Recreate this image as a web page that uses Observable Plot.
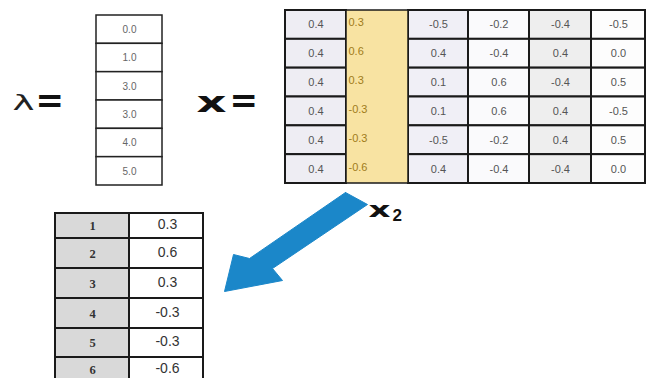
<!DOCTYPE html>
<html>
<head>
<meta charset="utf-8">
<script src="https://cdn.jsdelivr.net/npm/d3@7"></script>
<script src="https://cdn.jsdelivr.net/npm/@observablehq/plot@0.6"></script>
<style>
  html, body { margin: 0; padding: 0; background: #fff; }
  #chart svg { display: block; }
</style>
</head>
<body>
<div id="chart"></div>
<script>
// ---- data ----
const lambdaValues = [0.0, 1.0, 3.0, 3.0, 4.0, 5.0];
const xCol1 = [0.4, 0.4, 0.4, 0.4, 0.4, 0.4];
const xCol2 = [0.3, 0.6, 0.3, -0.3, -0.3, -0.6];
const xCol3 = [-0.5, 0.4, 0.1, 0.1, -0.5, 0.4];
const xCol4 = [-0.2, -0.4, 0.6, 0.6, -0.2, -0.4];
const xCol5 = [-0.4, 0.4, -0.4, 0.4, 0.4, -0.4];
const xCol6 = [-0.5, 0.0, 0.5, -0.5, 0.5, 0.0];
const x2Index = [1, 2, 3, 4, 5, 6];
const x2Values = [0.3, 0.6, 0.3, -0.3, -0.3, -0.6];
const highlightedColumn = 1; // index of x2 in X

// ---- layout ----
const W = 646, H = 378;
const fmt = v => v.toFixed(1);

// lambda vector
const lam = {x1: 96, x2: 162, y1: 15, y2: 185};
const lamH = (lam.y2 - lam.y1) / lambdaValues.length;
const lambdaCells = lambdaValues.map((v, i) => ({
  x1: lam.x1, x2: lam.x2, y1: lam.y1 + i * lamH, y2: lam.y1 + (i + 1) * lamH, v
}));

// X matrix
const xCols = [xCol1, xCol2, xCol3, xCol4, xCol5, xCol6];
const colEdges = [285, 346, 408, 468, 529, 591, 645];
const mat = {y1: 10, y2: 183};
const matH = (mat.y2 - mat.y1) / 6;
const colFills = ["#eeedf3", "#f8e3a2", "#f0eff6", "#fafafc", "#eeeeee", "#fdfdfd"];
const matCells = [];
xCols.forEach((col, c) => {
  if (c === highlightedColumn) return;
  col.forEach((v, r) => matCells.push({
    x1: colEdges[c], x2: colEdges[c + 1],
    y1: mat.y1 + r * matH, y2: mat.y1 + (r + 1) * matH,
    v, fill: colFills[c]
  }));
});
const hlCol = [{x1: colEdges[highlightedColumn], x2: colEdges[highlightedColumn + 1], y1: mat.y1, y2: mat.y2}];
const hlText = xCols[highlightedColumn].map((v, r) => ({
  x: colEdges[highlightedColumn] + 2, y: mat.y1 + r * matH + matH / 2 - 2, v
}));

// x2 table
const tab = {x0: 55, x1: 129, x2: 203};
const tabEdges = [213, 238, 268, 298, 328, 357, 387];
const tabCells = [];
x2Index.forEach((idx, r) => {
  tabCells.push({x1: tab.x0, x2: tab.x1, y1: tabEdges[r], y2: tabEdges[r + 1], fill: "#d9d9d9"});
  tabCells.push({x1: tab.x1, x2: tab.x2, y1: tabEdges[r], y2: tabEdges[r + 1], fill: "#ffffff"});
});
const rowMid = r => Math.min((tabEdges[r] + tabEdges[r + 1]) / 2 - 1, 368);
const tabIdxText = x2Index.map((v, r) => ({x: (tab.x0 + tab.x1) / 2, y: rowMid(r) + 1, v}));
const tabValText = x2Values.map((v, r) => ({x: (tab.x1 + tab.x2) / 2 + 1, y: rowMid(r), v}));

// arrow polygon (decorative)
const arrowPts = [
  [345, 192], [367, 204], [272, 268], [282, 280], [224, 291], [233, 254], [249, 258], [345, 192]
].map(([x, y]) => ({x, y}));

const sans = "Liberation Sans, Arial, sans-serif";
const dv = "DejaVu Sans, sans-serif";

const chart = Plot.plot({
  width: W, height: H,
  margin: 0,
  x: {domain: [0, W], range: [0, W], axis: null},
  y: {domain: [0, H], range: [0, H], axis: null},
  color: {type: "identity"},
  style: {background: "#fff", fontFamily: sans},
  marks: [
    // lambda label
    Plot.text([{x: 12, y: 103}], {x: "x", y: "y", text: () => "λ", fontSize: 21, textAnchor: "start", fill: "#222", fontFamily: dv}),
    Plot.text([{x: 35, y: 101}], {x: "x", y: "y", text: () => "=", fontSize: 34, fontWeight: "bold", textAnchor: "start", fill: "#111", fontFamily: dv}),
    // lambda vector
    Plot.rect(lambdaCells, {x1: "x1", x2: "x2", y1: "y1", y2: "y2", fill: "#fff", stroke: "#222", strokeWidth: 1.5}),
    Plot.text(lambdaCells, {x: d => (d.x1 + d.x2) / 2, y: d => (d.y1 + d.y2) / 2, text: d => fmt(d.v), fontSize: 10, fill: "#666"}),
    // X label
    Plot.text([{x: 196, y: 103}], {x: "x", y: "y", text: () => "x", fontSize: 28, fontWeight: "bold", textAnchor: "start", fill: "#111", fontFamily: dv}),
    Plot.text([{x: 229, y: 101}], {x: "x", y: "y", text: () => "=", fontSize: 34, fontWeight: "bold", textAnchor: "start", fill: "#111", fontFamily: dv}),
    // X matrix
    Plot.rect(matCells, {x1: "x1", x2: "x2", y1: "y1", y2: "y2", fill: "fill", stroke: "#1a1a1a", strokeWidth: 2}),
    Plot.rect(hlCol, {x1: "x1", x2: "x2", y1: "y1", y2: "y2", fill: colFills[highlightedColumn], stroke: "#1a1a1a", strokeWidth: 1.5}),
    Plot.text(matCells, {x: d => (d.x1 + d.x2) / 2, y: d => (d.y1 + d.y2) / 2, text: d => fmt(d.v), fontSize: 11, fill: "#555"}),
    Plot.text(hlText, {x: "x", y: "y", text: d => fmt(d.v), fontSize: 11, fill: "#a07c1a", textAnchor: "start"}),
    // arrow
    Plot.line(arrowPts, {x: "x", y: "y", fill: "#1b87c9", stroke: "#1b87c9", strokeWidth: 1}),
    // x2 label
    Plot.text([{x: 368, y: 210}], {x: "x", y: "y", text: () => "x", fontSize: 21, fontWeight: "bold", textAnchor: "start", fill: "#111", fontFamily: dv}),
    Plot.text([{x: 392, y: 215}], {x: "x", y: "y", text: () => "2", fontSize: 17, fontWeight: "bold", textAnchor: "start", fill: "#111", fontFamily: sans}),
    // x2 table
    Plot.rect(tabCells, {x1: "x1", x2: "x2", y1: "y1", y2: "y2", fill: "fill", stroke: "#1a1a1a", strokeWidth: 2}),
    Plot.text(tabIdxText, {x: "x", y: "y", text: d => String(d.v), fontSize: 12.5, fontWeight: "bold", fill: "#333", fontFamily: "Liberation Serif, Times New Roman, serif"}),
    Plot.text(tabValText, {x: "x", y: "y", text: d => fmt(d.v), fontSize: 14, fill: "#333"})
  ]
});
// widen the label glyphs to match the reference lettering
d3.select(chart).selectAll("text").each(function () {
  const t = this.textContent;
  const fs = parseFloat(this.closest("g[font-size]")?.getAttribute("font-size") || this.getAttribute("font-size") || "0");
  let len = null;
  if (t === "x" && fs >= 25) len = 30;
  else if (t === "x") len = 22;
  else if (t === "λ") len = 22;
  if (len) this.setAttribute("textLength", len), this.setAttribute("lengthAdjust", "spacingAndGlyphs");
});
document.getElementById("chart").appendChild(chart);
</script>
</body>
</html>
